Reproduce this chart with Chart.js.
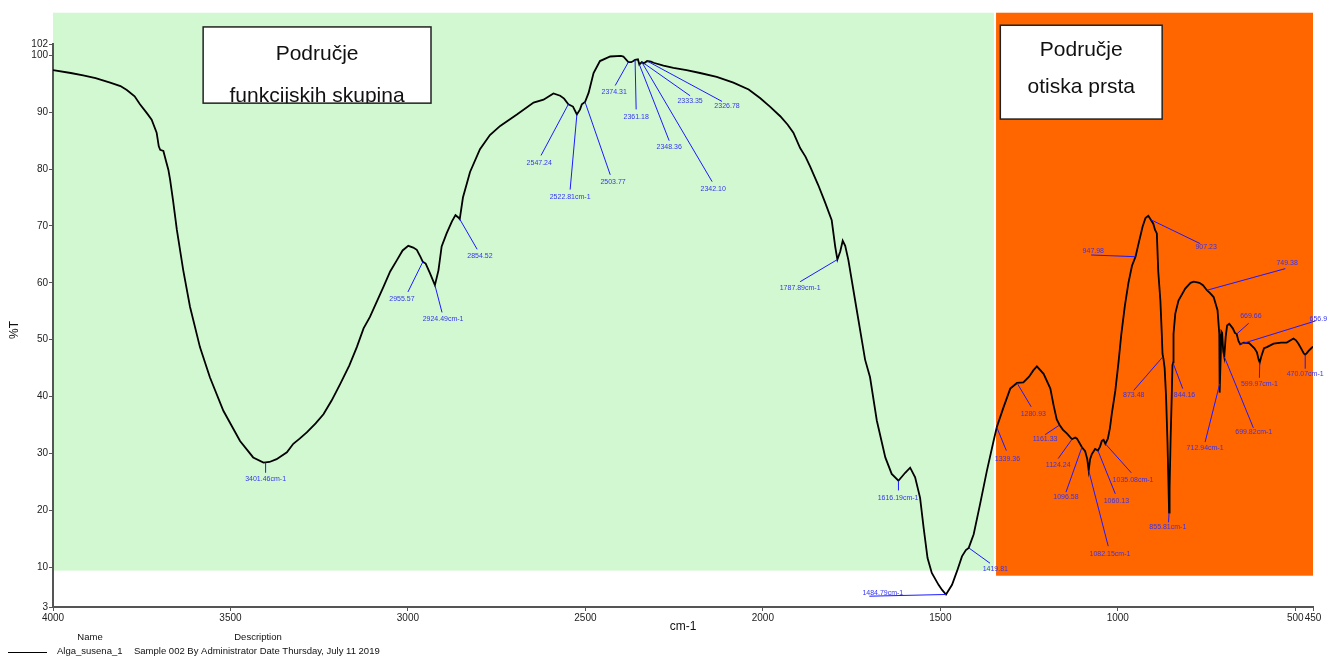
<!DOCTYPE html>
<html>
<head>
<meta charset="utf-8">
<script src="https://cdn.jsdelivr.net/npm/chart.js@4.4.1/dist/chart.umd.min.js"></script>
<style>
  html, body { margin: 0; padding: 0; background: #fff; }
  #wrap { width: 1327px; height: 657px; position: relative; }
</style>
</head>
<body>
<div id="wrap"><canvas id="c"></canvas></div>
<script>
// ── Spectrum data (wavenumber cm-1, %T) ──
const wavenumbers = [
  4000, 3950, 3915, 3880, 3839, 3810, 3792, 3770, 3755, 3735, 3722, 3708, 3702, 3698, 3689, 3682, 3675, 3670, 3662, 3651,
  3633, 3614, 3586, 3558, 3520, 3473, 3436, 3407, 3390, 3370, 3341, 3323, 3305, 3285, 3260, 3238, 3215, 3191, 3165, 3144,
  3125, 3107, 3069, 3050, 3031, 3015, 2999, 2985, 2975, 2965, 2958, 2950, 2938, 2924, 2914, 2905, 2891, 2876, 2866, 2858,
  2854, 2845, 2825, 2797, 2769, 2740, 2693, 2646, 2618, 2590, 2571, 2560, 2548, 2535, 2524, 2515, 2510, 2501, 2491, 2477,
  2459, 2430, 2400, 2393, 2379, 2371, 2365, 2360, 2352, 2348, 2341, 2335, 2326, 2315, 2308, 2280, 2252, 2215, 2177, 2130,
  2083, 2040, 2008, 1980, 1951, 1930, 1914, 1895, 1880, 1867, 1844, 1825, 1806, 1796, 1790, 1782, 1775, 1768, 1759, 1740,
  1720, 1712, 1698, 1679, 1655, 1637, 1618, 1599, 1585, 1571, 1557, 1547, 1536, 1524, 1505, 1495, 1484, 1467, 1453, 1439,
  1428, 1420, 1406, 1388, 1369, 1350, 1341, 1322, 1303, 1284, 1266, 1250, 1238, 1228, 1209, 1190, 1181, 1172, 1164, 1155,
  1143, 1129, 1120, 1115, 1101, 1092, 1086, 1082, 1078, 1073, 1064, 1056, 1050, 1045, 1040, 1035, 1028, 1022, 1017, 1007,
  998, 990, 980, 970, 960, 950, 940, 930, 922, 914, 907, 900, 895, 890, 886, 880, 876, 874, 871, 868,
  864, 860, 857, 855.5, 854, 851, 848, 846, 844, 843, 838, 829, 810, 795, 786, 770, 760, 749, 740, 730,
  719, 714, 713, 711, 708, 706, 703, 700, 696, 692, 686, 676, 670, 665, 660, 655, 645, 630, 615, 608,
  603, 600, 595, 588, 580, 561, 540, 524, 505, 498, 491, 482, 476, 472, 468, 463, 455, 450
];
const transmittance = [
  97.4, 96.9, 96.5, 96.0, 95.2, 94.6, 93.9, 92.8, 91.4, 89.8, 88.7, 86.4, 84.0, 83.4, 83.2, 81.5, 79.9, 78.1, 74.6, 69.3,
  62.2, 55.8, 48.7, 43.4, 37.5, 32.2, 29.3, 28.4, 28.5, 29.0, 30.2, 31.7, 32.6, 33.7, 35.3, 36.9, 39.3, 42.2, 45.5, 48.7,
  52.0, 54.0, 59.3, 62.0, 64.0, 65.7, 66.5, 66.2, 65.8, 64.6, 63.7, 63.4, 61.7, 59.6, 62.2, 66.4, 68.7, 70.8, 71.9, 71.5,
  71.2, 75.0, 79.5, 83.5, 86.0, 87.6, 89.6, 91.7, 92.2, 93.3, 92.9, 92.4, 91.4, 91.0, 89.6, 90.5, 91.4, 91.8, 93.4, 96.9,
  99.0, 99.8, 99.9, 99.8, 98.8, 98.8, 99.0, 99.2, 99.3, 98.4, 98.8, 98.6, 99.0, 98.9, 98.7, 98.2, 97.8, 97.4, 96.9, 96.2,
  95.2, 94.0, 92.5, 91.0, 89.3, 87.8, 86.4, 83.7, 82.2, 80.5, 77.2, 74.2, 71.0, 66.3, 64.1, 65.5, 67.4, 66.5, 64.0, 56.9,
  49.5, 46.5, 43.4, 35.8, 29.3, 26.4, 25.2, 26.6, 27.5, 25.8, 22.2, 16.9, 11.6, 9.0, 6.9, 6.0, 5.2, 6.9, 9.3, 11.9,
  13.0, 13.4, 15.8, 21.1, 26.9, 32.2, 34.6, 38.1, 41.4, 42.4, 42.5, 43.5, 44.6, 45.3, 44.0, 41.4, 38.5, 36.0, 35.0, 34.2,
  33.5, 32.5, 32.8, 32.6, 31.1, 30.4, 29.0, 27.0, 29.0, 29.9, 30.8, 30.5, 31.2, 32.2, 32.4, 31.7, 32.6, 34.5, 36.9, 41.0,
  46.0, 51.0, 56.0, 60.0, 63.0, 64.6, 67.3, 69.9, 71.4, 71.8, 71.1, 70.4, 69.3, 68.7, 62.0, 56.9, 51.0, 47.5, 46.5, 45.0,
  40.0, 32.0, 24.0, 19.6, 24.0, 33.0, 40.0, 45.5, 46.0, 51.0, 54.6, 56.9, 59.0, 60.0, 60.2, 60.0, 59.6, 58.7, 58.2, 57.5,
  55.2, 51.0, 40.7, 45.0, 51.4, 51.2, 48.0, 47.0, 50.5, 52.5, 52.8, 52.0, 51.2, 51.0, 49.8, 49.2, 49.5, 49.4, 48.5, 47.8,
  46.5, 46.0, 47.2, 48.5, 48.7, 49.3, 49.5, 49.5, 50.2, 49.9, 49.3, 48.3, 47.6, 47.4, 47.6, 48.0, 48.5, 48.8
];

// axis ticks
const xTicks = [4000, 3500, 3000, 2500, 2000, 1500, 1000, 500, 450];
const yTicks = [3, 10, 20, 30, 40, 50, 60, 70, 80, 90, 100, 102];

// peak labels: text, point on curve (wn, %T), line end (wn, %T), text centre (wn, %T)
const peakText = ['3401.46cm-1', '2955.57', '2924.49cm-1', '2854.52', '2547.24', '2522.81cm-1', '2503.77', '2374.31',
  '2361.18', '2348.36', '2342.10', '2333.35', '2326.78', '1787.89cm-1', '1616.19cm-1', '1484.79cm-1', '1419.81',
  '1339.36', '1280.93', '1161.33', '1124.24', '1096.58', '1082.15cm-1', '1060.13', '1035.08cm-1', '947.98', '907.23',
  '749.38', '873.48', '855.81cm-1', '844.16', '712.94cm-1', '699.82cm-1', '669.66', '656.9', '599.97cm-1', '470.07cm-1'];
const peakAt = [[3401, 28.4], [2958, 63.7], [2924, 59.6], [2854, 71.2], [2548, 91.4], [2524, 89.6], [2501, 91.8], [2379, 98.8],
  [2360, 99.2], [2348, 98.4], [2341, 98.8], [2335, 98.6], [2326, 99.0], [1790, 64.1], [1618, 25.2], [1484, 5.2], [1420, 13.4],
  [1341, 34.6], [1284, 42.4], [1164, 35.0], [1129, 32.5], [1101, 31.1], [1082, 27.0], [1056, 30.5], [1035, 31.7], [950, 64.6], [907, 71.1],
  [749, 58.7], [873, 47.0], [855.5, 19.6], [845, 46.0], [713, 42.2], [700, 47.0], [665, 51.0], [655, 49.2], [600, 46.0], [472, 47.4]];
const peakLineEnd = [[3401, 26.6], [3000, 58.4], [2904, 54.8], [2805, 65.9], [2625, 82.4], [2543, 76.4], [2430, 79.0], [2416, 94.7],
  [2357, 90.5], [2264, 85.0], [2143, 77.8], [2205, 92.9], [2115, 91.9], [1895, 60.2], [1618, 23.5], [1700, 4.9], [1360, 10.7],
  [1314, 30.5], [1244, 38.2], [1205, 33.3], [1168, 29.1], [1146, 23.2], [1027, 13.7], [1007, 22.9], [962, 26.6], [1075, 64.9], [768, 66.9],
  [528, 62.5], [955, 41.1], [857, 17.9], [817, 41.4], [754, 32.0], [618, 34.5], [631, 52.9], [443, 53.3], [601, 43.3], [472, 44.9]];
const peakTextAt = [[3401, 25.5], [3017, 57.1], [2901, 53.6], [2797, 64.7], [2630, 81.1], [2543, 75.1], [2422, 77.8], [2419, 93.6],
  [2357, 89.2], [2264, 83.8], [2140, 76.5], [2205, 92.0], [2101, 91.0], [1895, 59.1], [1619, 22.2], [1662, 5.5], [1345, 9.7],
  [1311, 29.1], [1238, 37.0], [1205, 32.6], [1168, 28.0], [1146, 22.4], [1022, 12.3], [1004, 21.6], [957, 25.4], [1069, 65.6], [751, 66.3],
  [523, 63.4], [955, 40.2], [859, 17.1], [812, 40.2], [754, 30.9], [617, 33.7], [625, 54.1], [435, 53.7], [601, 42.2], [472, 43.9]];

// shaded regions: [wn from, wn to, %T top, %T bottom]
const regionFunctional = [4000, 1349, 107.5, 9.4];
const regionFingerprint = [1343, 450, 107.5, 8.5];
// text boxes: [wn left, wn right, %T top, %T bottom]
const boxFunctional = [3577, 2935, 105.0, 91.6];
const boxFingerprint = [1331, 875, 105.3, 88.8];
const boxFunctionalText = ['Područje', 'funkcijskih skupina'];
const boxFingerprintText = ['Područje', 'otiska prsta'];

const FONT = '"Liberation Sans", Arial, sans-serif';
const LABEL_BLUE = '#3434f2';

const decor = {
  id: 'decor',
  beforeDraw(chart) {
    const { ctx, scales: { x, y } } = chart;
    ctx.save();
    ctx.fillStyle = '#fff';
    ctx.fillRect(0, 0, chart.width, chart.height);
    const rect = (r, color) => {
      const x1 = x.getPixelForValue(r[0]), x2 = x.getPixelForValue(r[1]);
      const y1 = y.getPixelForValue(r[2]), y2 = y.getPixelForValue(r[3]);
      ctx.fillStyle = color;
      ctx.fillRect(x1, y1, x2 - x1, y2 - y1);
    };
    rect(regionFunctional, '#d2f8d2');
    rect(regionFingerprint, '#ff6600');
    ctx.restore();
  },
  afterDatasetsDraw(chart) {
    const { ctx, scales: { x, y } } = chart;
    ctx.save();
    // peak annotation lines + labels
    ctx.strokeStyle = '#1a1aff';
    ctx.lineWidth = 1;
    ctx.font = '7px ' + FONT;
    ctx.textAlign = 'center';
    ctx.textBaseline = 'middle';
    peakText.forEach((t, i) => {
      ctx.beginPath();
      ctx.moveTo(x.getPixelForValue(peakAt[i][0]), y.getPixelForValue(peakAt[i][1]));
      ctx.lineTo(x.getPixelForValue(peakLineEnd[i][0]), y.getPixelForValue(peakLineEnd[i][1]));
      ctx.stroke();
      ctx.fillStyle = LABEL_BLUE;
      ctx.fillText(t, x.getPixelForValue(peakTextAt[i][0]), y.getPixelForValue(peakTextAt[i][1]));
    });

    // white text boxes (the lower line is cut by the box edge, as in the original)
    const box = (b, lines, base1, base2) => {
      const x1 = x.getPixelForValue(b[0]), x2 = x.getPixelForValue(b[1]);
      const y1 = y.getPixelForValue(b[2]), y2 = y.getPixelForValue(b[3]);
      ctx.save();
      ctx.fillStyle = '#fff';
      ctx.fillRect(x1, y1, x2 - x1, y2 - y1);
      ctx.beginPath();
      ctx.rect(x1, y1, x2 - x1, y2 - y1);
      ctx.clip();
      ctx.fillStyle = '#111';
      ctx.font = '21px ' + FONT;
      ctx.textAlign = 'center';
      ctx.textBaseline = 'alphabetic';
      ctx.fillText(lines[0], (x1 + x2) / 2, y1 + base1);
      ctx.fillText(lines[1], (x1 + x2) / 2, y1 + base2);
      ctx.restore();
      ctx.strokeStyle = '#222';
      ctx.lineWidth = 1.5;
      ctx.strokeRect(x1, y1, x2 - x1, y2 - y1);
    };
    box(boxFunctional, boxFunctionalText, 33, 75);
    box(boxFingerprint, boxFingerprintText, 31, 68);
    ctx.restore();
  },
  afterDraw(chart) {
    const { ctx } = chart;
    ctx.save();
    ctx.fillStyle = '#111';
    ctx.textBaseline = 'middle';
    // axis titles
    ctx.font = '12px ' + FONT;
    ctx.textAlign = 'center';
    ctx.fillText('cm-1', 683, 627);
    ctx.save();
    ctx.translate(15, 330);
    ctx.rotate(-Math.PI / 2);
    ctx.fillText('%T', 0, 0);
    ctx.restore();
    // legend table
    ctx.font = '9.5px ' + FONT;
    ctx.fillText('Name', 90, 637);
    ctx.fillText('Description', 258, 637);
    ctx.textAlign = 'left';
    ctx.fillText('Alga_susena_1', 57, 651);
    ctx.fillText('Sample 002 By Administrator Date Thursday, July 11 2019', 134, 651);
    ctx.strokeStyle = '#000';
    ctx.lineWidth = 1;
    ctx.beginPath();
    ctx.moveTo(8, 652.5);
    ctx.lineTo(47, 652.5);
    ctx.stroke();
    ctx.restore();
  }
};

const points = wavenumbers.map((w, i) => ({ x: w, y: transmittance[i] }));

new Chart(document.getElementById('c'), {
  type: 'line',
  data: {
    datasets: [{
      label: 'Alga_susena_1',
      data: points,
      borderColor: '#000',
      borderWidth: 1.8,
      pointRadius: 0,
      tension: 0,
      fill: false,
    }],
  },
  options: {
    responsive: true,
    maintainAspectRatio: false,
    animation: false,
    layout: { padding: { left: 0, top: 44, right: 14, bottom: 0 } },
    plugins: { legend: { display: false }, tooltip: { enabled: false } },
    scales: {
      x: {
        type: 'linear',
        reverse: true,
        min: 450,
        max: 4000,
        afterBuildTicks: s => { s.ticks = xTicks.map(v => ({ value: v })); },
        afterFit: s => { s.height = 50; },
        grid: { drawOnChartArea: false, drawTicks: true, tickLength: 4, color: '#555' },
        border: { color: '#555', width: 2 },
        ticks: { font: { size: 10, family: FONT }, color: '#222', padding: 1, maxRotation: 0, autoSkip: false,
          callback: v => String(v) },
      },
      y: {
        min: 3,
        max: 102,
        afterBuildTicks: s => { s.ticks = yTicks.map(v => ({ value: v })); },
        afterFit: s => { s.width = 53; },
        grid: { drawOnChartArea: false, drawTicks: true, tickLength: 4, color: '#555' },
        border: { color: '#555', width: 2 },
        ticks: { font: { size: 10, family: FONT }, color: '#222', padding: 1, autoSkip: false,
          callback: v => String(v) },
      },
    },
  },
  plugins: [decor],
});
</script>
</body>
</html>
